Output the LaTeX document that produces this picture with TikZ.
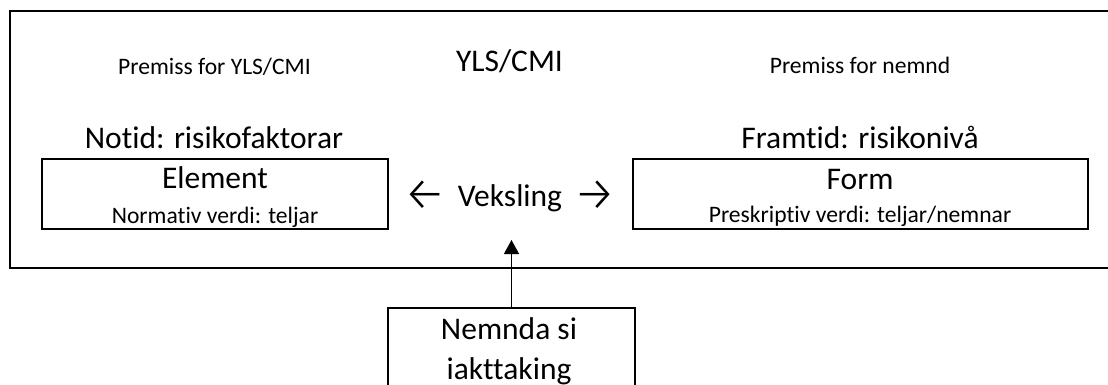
\documentclass[tikz,border=0pt]{standalone}
\usepackage{fontspec}
\setmainfont{Carlito}[Ligatures={NoCommon}]
\newfontfamily\arrowfont{Fira Sans Light}
\usetikzlibrary{arrows.meta}
\begin{document}
\begin{tikzpicture}[x=1pt,y=-1pt,
  frameline/.style={line width=1.8pt},
  boxnode/.style={draw, line width=1.8pt, inner sep=0pt},
  bigtext/.style={font=\fontsize{31.5}{40}\selectfont, inner sep=0pt, anchor=base},
  smalltext/.style={font=\fontsize{23.6}{28}\selectfont, inner sep=0pt, anchor=base},
  link/.style={line width=1.3pt, -{Triangle[width=15pt,length=14pt]}}]
\useasboundingbox (0,0) rectangle (1108,385);
\clip (0,0) rectangle (1108,385);
\fill[white] (0,0) rectangle (1108,385);
% outer frame (open on the right)
\draw[frameline] (1120,11) -| (10,268) -- (1120,268);
% boxes
\node[boxnode, minimum width=346pt, minimum height=70pt] (elbox) at (215,194) {};
\node[boxnode, minimum width=455pt, minimum height=70pt] (formbox) at (860.5,194) {};
\node[boxnode, minimum width=247pt, minimum height=87pt] (nembox) at (511.5,351.5) {};
% texts
\node[smalltext] (p1) at (214.5,75) {Premiss for YLS/CMI};
\node[bigtext] (yls) at (509.5,72) {YLS/CMI};
\node[smalltext] (p2) at (860,74) {Premiss for nemnd};
\node[bigtext] (notid) at (214,149) {Notid: risikofaktorar};
\node[bigtext] (framtid) at (860,149) {Framtid: risikonivå};
\node[bigtext] (el) at (215,188) {Element};
\node[smalltext] (elv) at (215,223) {Normativ verdi: teljar};
\node[bigtext] (form) at (860,189) {Form};
\node[smalltext] (formv) at (860,222) {Preskriptiv verdi: teljar/nemnar};
\node[bigtext] (veks) at (510,206) {\raisebox{-4pt}{\arrowfont\fontsize{48}{48}\selectfont ←}\hspace{11pt}Veksling\hspace{11pt}\raisebox{-4pt}{\arrowfont\fontsize{48}{48}\selectfont →}};
\node[bigtext] (nem1) at (509,339) {Nemnda si};
\node[bigtext] (nem2) at (509,379) {iakttaking};
% connector
\coordinate (tip) at (511.5,240);
\draw[link] (nembox.north) -- (tip);
\end{tikzpicture}
\end{document}
